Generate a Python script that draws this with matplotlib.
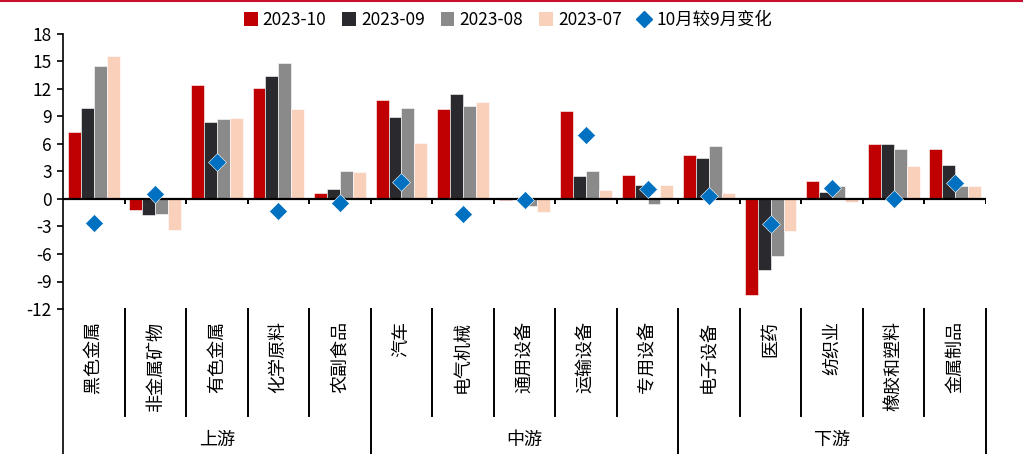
import matplotlib

matplotlib.use("Agg")

from matplotlib import pyplot
from matplotlib.lines import Line2D
from matplotlib.patches import Patch
from matplotlib.transforms import blended_transform_factory
import numpy as np

pyplot.rcParams["font.family"] = ["Noto Sans CJK SC", "DejaVu Sans"]
pyplot.rcParams["axes.unicode_minus"] = False

categories = [
    "黑色金属", "非金属矿物", "有色金属", "化学原料", "农副食品",
    "汽车", "电气机械", "通用设备", "运输设备", "专用设备",
    "电子设备", "医药", "纺织业", "橡胶和塑料", "金属制品",
]
groups = ["上游", "中游", "下游"]

series_names = ["2023-10", "2023-09", "2023-08", "2023-07"]
oct_23 = [7.26, -1.16, 12.46, 12.06, 0.70, 10.79, 9.80, -0.15, 9.58, 2.67, 4.78, -10.45, 1.97, 5.98, 5.46]
sep_23 = [9.88, -1.70, 8.38, 13.37, 1.14, 8.96, 11.44, 0.00, 2.56, 1.57, 4.48, -7.72, 0.77, 5.98, 3.68]
aug_23 = [14.47, -1.60, 8.78, 14.80, 3.10, 9.88, 10.16, -0.80, 3.10, -0.50, 5.76, -6.23, 1.39, 5.40, 1.39]
jul_23 = [15.60, -3.42, 8.89, 9.80, 2.95, 6.16, 10.60, -1.42, 0.98, 1.50, 0.70, -3.50, -0.33, 3.60, 1.39]
change_name = "10月较9月变化"
change = [-2.62, 0.54, 4.08, -1.31, -0.44, 1.83, -1.64, -0.15, 7.02, 1.10, 0.30, -2.73, 1.20, 0.00, 1.78]

colors = ["#C00000", "#2A292E", "#8A8A8A", "#F9D0BA"]
diamond_color = "#0070C0"

fig = pyplot.figure(figsize=(10.23, 4.54), dpi=100)
ax = fig.add_axes([63 / 1023, 145 / 454, 923 / 1023, 275 / 454])

x = np.arange(len(categories)) + 0.5
width = 0.21
for k, (vals, c) in enumerate(zip([oct_23, sep_23, aug_23, jul_23], colors)):
    ax.bar(x + (k - 1.5) * width, vals, width, color=c, edgecolor="white",
           linewidth=0.4, zorder=2)
ax.plot(x, change, linestyle="none", marker="D", markersize=8.8,
        color=diamond_color, markeredgecolor="white", markeredgewidth=0.4, zorder=4)

ax.set_xlim(0, len(categories))
ax.set_ylim(-12, 18)
ax.set_yticks(np.arange(-12, 19, 3))
ax.tick_params(axis="y", direction="out", length=4, width=1.2, labelsize=12.5, pad=4)
ax.set_xticks([])
for side in ("top", "right", "bottom"):
    ax.spines[side].set_visible(False)
ax.spines["left"].set_linewidth(1.2)

# zero line with boundary ticks hanging below it
ax.axhline(0, color="black", linewidth=1.6, zorder=3)
ax.vlines(np.arange(1, len(categories) + 1), -0.6, 0, color="black", linewidth=1.4, zorder=3)

# category axis underneath the plot
trans = blended_transform_factory(ax.transData, fig.transFigure)
y_top = 145 / 454
y_short = 38 / 454
for b in range(1, len(categories)):
    low = 0 if b % 5 == 0 else y_short
    ax.plot([b, b], [y_top, low], transform=trans, color="black", linewidth=1.4,
            clip_on=False)
ax.plot([0, 0], [y_top, 0], transform=trans, color="black", linewidth=1.2, clip_on=False)
ax.plot([15, 15], [y_top, 0], transform=trans, color="black", linewidth=1.4, clip_on=False)

for xi, name in zip(x, categories):
    ax.text(xi, 133 / 454, name, transform=trans, rotation=90, ha="center", va="top",
            fontsize=13)
for g, name in enumerate(groups):
    ax.text(g * 5 + 2.5, 14 / 454, name, transform=trans, ha="center", va="center",
            fontsize=13)

handles = [Patch(facecolor=c, edgecolor="none") for c in colors]
handles.append(Line2D([], [], linestyle="none", marker="D", markersize=8.5,
                      color=diamond_color))
fig.legend(handles, series_names + [change_name], loc="center", ncol=5,
           bbox_to_anchor=(508 / 1023, 1 - 20 / 454), frameon=False, fontsize=12.5,
           handlelength=0.8, handleheight=0.8, handletextpad=0.3, columnspacing=0.9)

fig.add_artist(Line2D([0, 1], [1 - 1 / 454, 1 - 1 / 454], color="#C8102E", linewidth=1.5))

fig.savefig("out.png", dpi=100)
